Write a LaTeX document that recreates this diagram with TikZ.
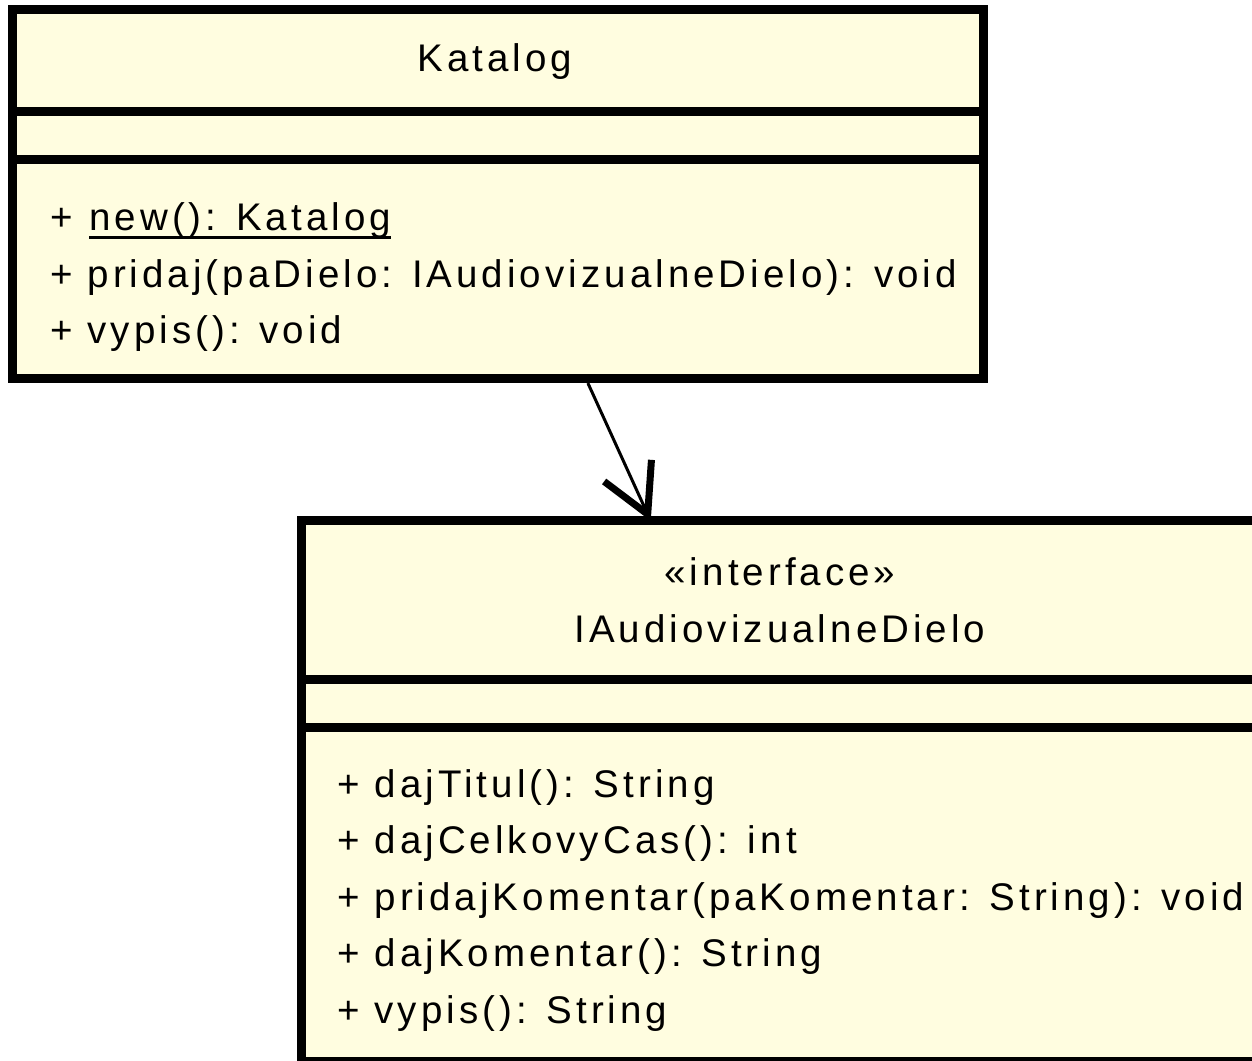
\documentclass[tikz,border=0pt]{standalone}
\usepackage{fontspec}
\setmainfont{Liberation Sans}[LetterSpace=10.5]
\usetikzlibrary{arrows.meta,fit}
\definecolor{umlfill}{RGB}{255,253,224}
\begin{document}
\begin{tikzpicture}[x=0.5pt,y=-0.5pt,
  umlbox/.style={draw=black, fill=umlfill, line width=4.5pt, inner sep=0pt},
  sepline/.style={line width=4.5pt},
  txt/.style={inner sep=0pt, font=\fontsize{19.25pt}{22pt}\selectfont},
  member/.style={txt, anchor=base west},
  titletxt/.style={txt, anchor=base},
  dep/.style={line width=1.5pt, -{Straight Barb[sharp, length=24pt, width=26pt, line width=3.5pt]}}]
\useasboundingbox (0,0) rectangle (1252,1060);
% Katalog class
\node[umlbox, fit={(12.5,9.5) (983,378.5)}] (kat) {};
\draw[sepline] (12.5,111) -- (983,111);
\draw[sepline] (12.5,159) -- (983,159);
\node[titletxt] (kattitle) at (495,71) {Katalog};
\node[member] (k1a) at (50,230) {+};
\node[member] (k1b) at (89,230) {new(): Katalog};
\draw[line width=1.4pt] ([yshift=-3.7pt]k1b.base west) -- ([yshift=-3.7pt]k1b.base east);
\node[member] (k2) at (50,287) {+ pridaj(paDielo: IAudiovizualneDielo): void};
\node[member] (k3) at (50,343) {+ vypis(): void};
% Interface
\node[umlbox, fit={(301.5,520.5) (1259,1061.5)}] (ifc) {};
\draw[sepline] (301.5,679) -- (1259,679);
\draw[sepline] (301.5,727.5) -- (1259,727.5);
\node[titletxt] (ster) at (780,585) {«interface»};
\node[titletxt] (ifctitle) at (780,642) {IAudiovizualneDielo};
\node[member] (i1) at (337,797) {+ dajTitul(): String};
\node[member] (i2) at (337,853.5) {+ dajCelkovyCas(): int};
\node[member] (i3) at (337,910) {+ pridajKomentar(paKomentar: String): void};
\node[member] (i4) at (337,966.5) {+ dajKomentar(): String};
\node[member] (i5) at (337,1023) {+ vypis(): String};
% dependency
\path (kat.south west) -- (kat.south east) coordinate[pos=0.592] (src);
\path (ifc.north west) -- (ifc.north east) coordinate[pos=0.366] (dst);
\draw[dep] (src) -- ([yshift=-2.5pt]dst);
\end{tikzpicture}
\end{document}
